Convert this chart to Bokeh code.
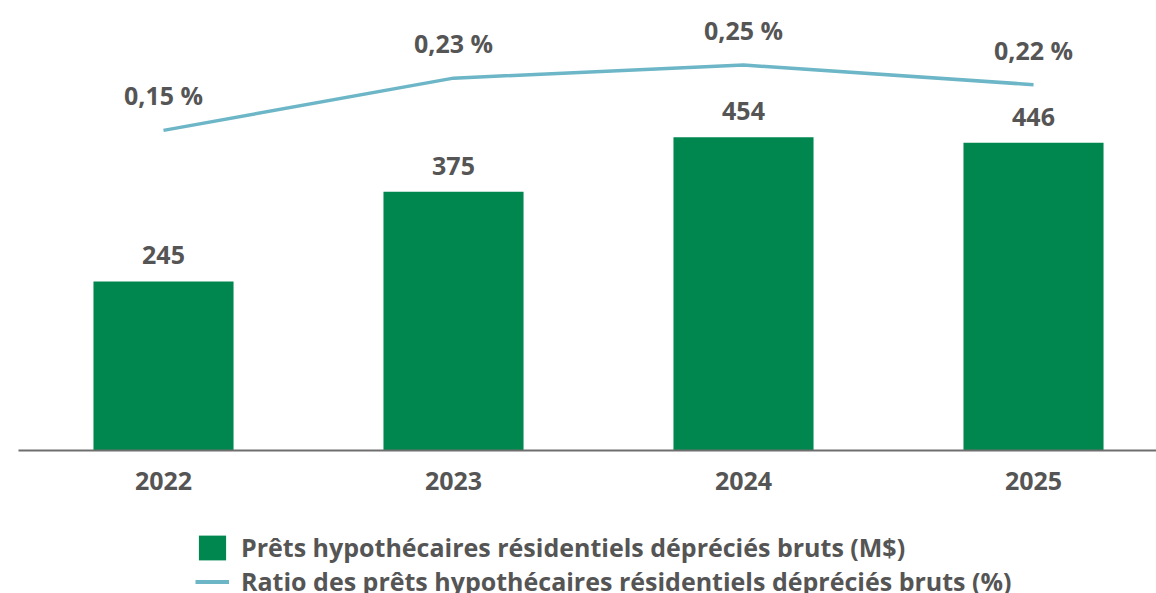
from bokeh.plotting import figure
from bokeh.layouts import column
from bokeh.models import (ColumnDataSource, Range1d, FixedTicker, Legend, LegendItem)
from bokeh.core.properties import value
from bokeh.embed import file_html
from bokeh.resources import INLINE

years = ["2022", "2023", "2024", "2025"]
loans = [245, 375, 454, 446]            # M$
ratios = [0.15, 0.23, 0.25, 0.22]       # %
bar_name = "Prêts hypothécaires résidentiels dépréciés bruts (M$)"
line_name = "Ratio des prêts hypothécaires résidentiels dépréciés bruts (%)"

GREEN = "#00874f"
BLUE = "#6cb6c7"
TEXT = "#555555"
FONT = "Open Sans"
FS = "25px"

xs = list(range(len(years)))
src = ColumnDataSource(dict(
    x=xs,
    loans=loans,
    ratios=ratios,
    loan_lbl=[str(v) for v in loans],
    ratio_lbl=[f"{v:.2f}".replace(".", ",") + " %" for v in ratios],
))

# ---- main chart ----
p = figure(width=1156, height=500, output_backend="svg", toolbar_location=None,
           x_range=Range1d(-0.5, 3.4241), y_range=Range1d(0, 652),
           y_axis_location=None, x_axis_location="below",
           min_border_left=18, min_border_right=0, min_border_top=0,
           min_border_bottom=50)
p.extra_y_ranges = {"pct": Range1d(-0.3402, 0.3489)}
p.outline_line_color = None
p.grid.visible = False
p.background_fill_color = "white"
p.border_fill_color = "white"

bars = p.vbar(x="x", top="loans", bottom=0, width=0.483, source=src,
              fill_color=GREEN, line_color=None)
line = p.line(x="x", y="ratios", source=src, y_range_name="pct",
              line_color=BLUE, line_width=3.5)

p.text(x="x", y="loans", text="loan_lbl", source=src, y_offset=-26,
       text_align="center", text_baseline="middle", text_color=TEXT,
       text_font=value(FONT), text_font_style="bold", text_font_size=FS)
p.text(x="x", y="ratios", text="ratio_lbl", source=src, y_range_name="pct",
       y_offset=-35, text_align="center", text_baseline="middle",
       text_color=TEXT, text_font=value(FONT), text_font_style="bold",
       text_font_size=FS)

ax = p.xaxis[0]
ax.ticker = FixedTicker(ticks=xs)
ax.major_label_overrides = {i: y for i, y in zip(xs, years)}
ax.major_tick_line_color = None
ax.minor_tick_line_color = None
ax.axis_line_color = "#6e6e6e"
ax.axis_line_width = 2
ax.major_label_standoff = 15
ax.major_label_text_font = FONT
ax.major_label_text_font_style = "bold"
ax.major_label_text_font_size = FS
ax.major_label_text_color = TEXT

# ---- legend strip (same series, drawn outside its visible range) ----
q = figure(width=1156, height=93, output_backend="svg", toolbar_location=None,
           x_range=Range1d(0, 1), y_range=Range1d(1000, 1001),
           x_axis_location=None, y_axis_location=None,
           min_border=0, min_border_left=0, min_border_right=0,
           min_border_top=0, min_border_bottom=0)
q.outline_line_color = None
q.grid.visible = False
q.background_fill_color = "white"
q.border_fill_color = "white"
lg_bar = q.vbar(x="x", top="loans", bottom=0, width=0.483, source=src,
                fill_color=GREEN, line_color=None)
lg_line = q.line(x="x", y="ratios", source=src, line_color=BLUE, line_width=4)

legend = Legend(items=[LegendItem(label=bar_name, renderers=[lg_bar]),
                       LegendItem(label=line_name, renderers=[lg_line])],
                location=(177, -5), orientation="vertical",
                glyph_width=34, glyph_height=31, spacing=0, label_height=31,
                label_standoff=12, padding=0, margin=0,
                border_line_color=None, background_fill_alpha=0,
                label_text_font=FONT, label_text_font_style="bold",
                label_text_font_size=FS, label_text_color=TEXT)
q.add_layout(legend, "center")

layout = column(p, q, spacing=0)
open("out.html", "w").write(file_html(layout, INLINE))
